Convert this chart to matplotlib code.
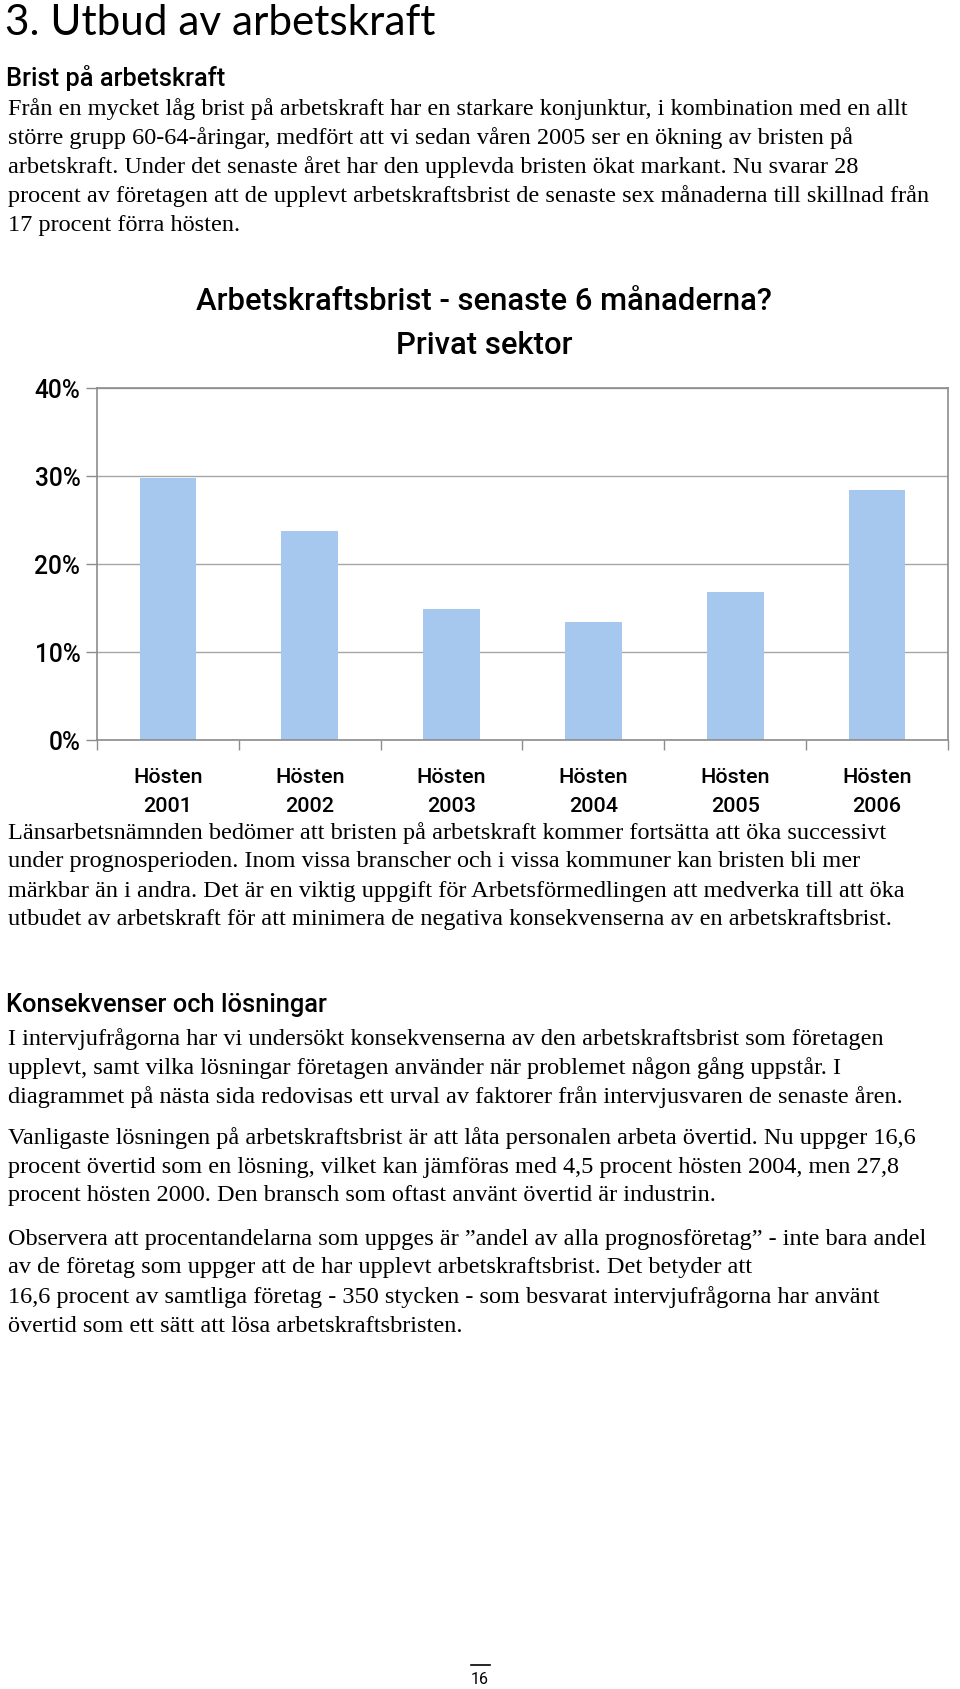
import matplotlib
matplotlib.use("Agg")
import matplotlib.pyplot as plt
from matplotlib import font_manager as fm

# ---------------- data ----------------
seasons = ["Hösten", "Hösten", "Hösten", "Hösten", "Hösten", "Hösten"]
years = ["2001", "2002", "2003", "2004", "2005", "2006"]
values = [29.8, 23.8, 14.9, 13.4, 16.8, 28.4]  # percent
yticks = [0, 10, 20, 30, 40]
ytick_labels = ["0%", "10%", "20%", "30%", "40%"]

chart_title = "Arbetskraftsbrist - senaste 6 månaderna?"
chart_subtitle = "Privat sektor"

page_title = "3. Utbud av arbetskraft"
heading1 = "Brist på arbetskraft"
para1 = [
    "Från en mycket låg brist på arbetskraft har en starkare konjunktur, i kombination med en allt",
    "större grupp 60-64-åringar, medfört att vi sedan våren 2005 ser en ökning av bristen på",
    "arbetskraft. Under det senaste året har den upplevda bristen ökat markant. Nu svarar 28",
    "procent av företagen att de upplevt arbetskraftsbrist de senaste sex månaderna till skillnad från",
    "17 procent förra hösten.",
]
para2 = [
    "Länsarbetsnämnden bedömer att bristen på arbetskraft kommer fortsätta att öka successivt",
    "under prognosperioden. Inom vissa branscher och i vissa kommuner kan bristen bli mer",
    "märkbar än i andra. Det är en viktig uppgift för Arbetsförmedlingen att medverka till att öka",
    "utbudet av arbetskraft för att minimera de negativa konsekvenserna av en arbetskraftsbrist.",
]
heading2 = "Konsekvenser och lösningar"
para3 = [
    "I intervjufrågorna har vi undersökt konsekvenserna av den arbetskraftsbrist som företagen",
    "upplevt, samt vilka lösningar företagen använder när problemet någon gång uppstår. I",
    "diagrammet på nästa sida redovisas ett urval av faktorer från intervjusvaren de senaste åren.",
]
para4 = [
    "Vanligaste lösningen på arbetskraftsbrist är att låta personalen arbeta övertid. Nu uppger 16,6",
    "procent övertid som en lösning, vilket kan jämföras med 4,5 procent hösten 2004, men 27,8",
    "procent hösten 2000. Den bransch som oftast använt övertid är industrin.",
]
para5 = [
    "Observera att procentandelarna som uppges är \u201dandel av alla prognosföretag\u201d - inte bara andel",
    "av de företag som uppger att de har upplevt arbetskraftsbrist. Det betyder att",
    "16,6 procent av samtliga företag - 350 stycken - som besvarat intervjufrågorna har använt",
    "övertid som ett sätt att lösa arbetskraftsbristen.",
]
page_number = "16"

# ---------------- fonts ----------------
avail = {f.name for f in fm.fontManager.ttflist}
def pick(*names):
    for n in names:
        if n in avail:
            return n
    return "DejaVu Sans"

SERIF = pick("Liberation Serif", "DejaVu Serif")
NARROW = pick("Liberation Sans Narrow", "Roboto", "Liberation Sans")
TITLEF = pick("Lato", "Open Sans", "Liberation Sans")

W, H = 960, 1689
fig = plt.figure(figsize=(W / 100, H / 100), dpi=100)
renderer = fig.canvas.get_renderer()

def Y(py):
    return 1 - py / H

def X(px):
    return px / W

def fit_size(text, family, target_w, weight="normal", base=20):
    t = fig.text(0, 0, text, fontsize=base, family=family, fontweight=weight)
    w = t.get_window_extent(renderer).width
    t.remove()
    return base * target_w / w

# ---------------- page text ----------------
ts = fit_size(page_title, TITLEF, 431, weight="normal")
fig.text(X(5), Y(23), page_title, fontsize=ts, family=TITLEF, fontweight="normal",
         va="center", ha="left", color="black")

hs = fit_size(heading1, NARROW, 220, weight="medium")
fig.text(X(6), Y(78), heading1, fontsize=hs, family=NARROW, fontweight="medium",
         va="center", ha="left")
fig.text(X(6), Y(1005), heading2, fontsize=hs, family=NARROW, fontweight="medium",
         va="center", ha="left")

bs = fit_size(para1[0], SERIF, 899)

def para(lines, y0, step=29.0):
    for i, ln in enumerate(lines):
        fig.text(X(8.5), Y(y0 + i * step), ln, fontsize=bs, family=SERIF,
                 va="center", ha="left")

para(para1, 109)
para(para2, 833)
para(para3, 1039)
para(para4, 1138)
para(para5, 1239)

ps = fit_size(page_number, NARROW, 18)
fig.text(X(480), Y(1679), page_number, fontsize=ps, family=NARROW, va="center", ha="center")
fig.add_artist(plt.Line2D([X(471), X(490)], [Y(1665), Y(1665)], color="black", lw=1.2))

# ---------------- chart ----------------
CW = "medium"
cs = fit_size(chart_title, NARROW, 577, weight=CW)
fig.text(X(484), Y(302), chart_title, fontsize=cs, family=NARROW, fontweight=CW,
         va="center", ha="center")
fig.text(X(484), Y(346), chart_subtitle, fontsize=cs, family=NARROW, fontweight=CW,
         va="center", ha="center")

ax = fig.add_axes([X(97), Y(740), X(948) - X(97), (740 - 388) / H])
xs = list(range(len(values)))
ax.bar(xs, values, width=0.4, color="#A7C8EE", zorder=2)
ax.set_xlim(-0.5, len(values) - 0.5)
ax.set_ylim(0, 40)
ax.set_yticks(yticks)
tk = fit_size("40%", NARROW, 46, weight=CW)
ax.set_yticklabels(ytick_labels, fontsize=tk, family=NARROW, fontweight=CW)
ax.yaxis.grid(True, color="#A6A6A6", lw=1.0, zorder=0)
for s in ax.spines.values():
    s.set_color("#8C8C8C")
    s.set_linewidth(1.2)
ax.set_xticks(xs)
xl = fit_size("Hösten", NARROW, 69, weight=CW)
ax.set_xticklabels([f"{s}\n{y}" for s, y in zip(seasons, years)], fontsize=xl,
                   family=NARROW, fontweight=CW, linespacing=1.7)
ax.set_xticks([i - 0.5 for i in range(len(values) + 1)], minor=True)
ax.tick_params(axis="x", which="major", length=0, pad=20)
ax.tick_params(axis="x", which="minor", length=7, color="#8C8C8C", width=1.0)
ax.tick_params(axis="y", length=8, color="#8C8C8C", width=1.0, pad=4)

fig.savefig("out.png", dpi=100)
